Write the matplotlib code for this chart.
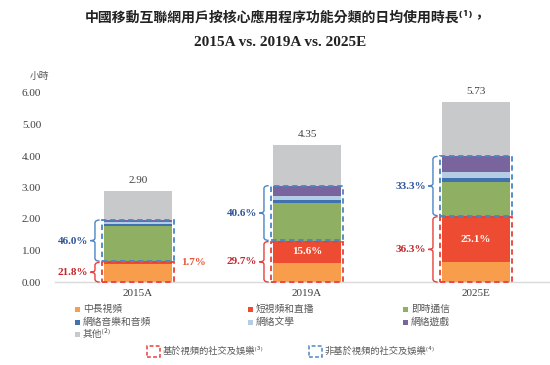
import matplotlib.pyplot as plt
import numpy as np
from matplotlib.patches import Rectangle, PathPatch
from matplotlib.path import Path

plt.rcParams['font.family'] = ['Liberation Serif', 'Noto Sans CJK TC', 'DejaVu Sans']

years = ['2015A', '2019A', '2025E']
totals = [2.90, 4.35, 5.73]
long_video = [0.583, 0.613, 0.642]
short_video = [0.049, 0.679, 1.438]
instant_msg = [1.13, 1.23, 1.08]
music_audio = [0.07, 0.09, 0.15]
literature = [0.07, 0.12, 0.19]
games = [0.064, 0.326, 0.488]
video_pct = ['21.8%', '29.7%', '36.3%']
nonvideo_pct = ['46.0%', '40.6%', '33.3%']
short_pct = ['1.7%', '15.6%', '25.1%']

series_names = ['中長視頻', '短視頻和直播', '即時通信', '網絡音樂和音頻', '網絡文學', '網絡遊戲', '其他⁽²⁾']
colors = ['#F79D4B', '#EE4B33', '#8FB063', '#3F72AE', '#B5CCE5', '#7A649E', '#C8C9CB']

others = [t - l - s - i - m - w - g for t, l, s, i, m, w, g in
          zip(totals, long_video, short_video, instant_msg, music_audio, literature, games)]
stack = [long_video, short_video, instant_msg, music_audio, literature, games, others]

red_box = '#E8403A'
blue_box = '#4A86C5'
red_txt = '#C0282D'
blue_txt = '#2F5496'
txt_gray = '#404040'

fig = plt.figure(figsize=(5.5, 3.65), dpi=100)
ax = fig.add_axes([55 / 550, 1 - 282 / 365, 495 / 550, 189 / 365])

x = np.arange(len(years))
bw = 0.4
bottom = np.zeros(len(years))
for vals, c in zip(stack, colors):
    ax.bar(x, vals, bw, bottom=bottom, color=c, linewidth=0, zorder=2)
    bottom += np.array(vals)


def brace(ax, xr, y0, y1, color):
    # curly brace pointing left, spanning y0..y1
    w = 0.055
    xm = xr - w * 0.5
    xl = xr - w
    ym = (y0 + y1) / 2
    r = 0.08
    verts = [(xr, y0), (xm, y0), (xm, y0 + r), (xm, y0 + r),
             (xm, ym - r), (xm, ym), (xl, ym),
             (xm, ym), (xm, ym + r),
             (xm, y1 - r), (xm, y1 - r), (xm, y1), (xr, y1)]
    codes = [Path.MOVETO, Path.CURVE4, Path.CURVE4, Path.CURVE4,
             Path.LINETO, Path.CURVE3, Path.CURVE3,
             Path.CURVE3, Path.CURVE3,
             Path.LINETO, Path.CURVE4, Path.CURVE4, Path.CURVE4]
    ax.add_patch(PathPatch(Path(verts, codes), fill=False, edgecolor=color, lw=1.0,
                           clip_on=False, zorder=3))
    return xl


for i in range(len(years)):
    v_top = long_video[i] + short_video[i]
    nv_top = totals[i] - others[i]
    bl = x[i] - bw / 2 - 0.015
    bwid = bw + 0.03
    ax.add_patch(Rectangle((bl, 0.0), bwid, v_top - 0.01, fill=False, edgecolor=red_box,
                           ls=(0, (3, 2)), lw=1.3, zorder=4, clip_on=False))
    ax.add_patch(Rectangle((bl, v_top + 0.03), bwid, nv_top - v_top - 0.03, fill=False,
                           edgecolor=blue_box, ls=(0, (3, 2)), lw=1.3, zorder=4, clip_on=False))
    xl = brace(ax, bl - 0.012, 0.0, v_top - 0.01, red_box)
    ax.text(xl - 0.012, v_top / 2, video_pct[i], ha='right', va='center', fontsize=8,
            fontweight='bold', color=red_txt)
    xl = brace(ax, bl - 0.012, v_top + 0.03, nv_top, blue_box)
    ax.text(xl - 0.012, (v_top + nv_top) / 2, nonvideo_pct[i], ha='right', va='center',
            fontsize=8, fontweight='bold', color=blue_txt)
    ax.text(x[i], totals[i] + 0.33, f'{totals[i]:.2f}', ha='center', va='center',
            fontsize=8, color=txt_gray)
    if i == 0:
        ax.text(x[i] + bw / 2 + 0.13, v_top, short_pct[i], ha='center', va='center',
                fontsize=8, fontweight='bold', color='#E9533B')
    else:
        ax.text(x[i], long_video[i] + short_video[i] / 2, short_pct[i], ha='center',
                va='center', fontsize=8, fontweight='bold', color='white', zorder=5)

ax.set_xlim(-0.491, 2.438)
ax.set_ylim(0, 6)
ax.set_yticks(np.arange(0, 7, 1))
ax.set_yticklabels([f'{v:.2f}' for v in np.arange(0, 7, 1)])
ax.set_xticks(x)
ax.set_xticklabels(years)
ax.tick_params(length=0, labelsize=8, colors=txt_gray, pad=5)
ax.tick_params(axis='y', pad=10)
for s in ['top', 'right', 'left']:
    ax.spines[s].set_visible(False)
ax.spines['bottom'].set_color('#D9D9D9')
ax.spines['bottom'].set_linewidth(1.0)

fig.text(30 / 550, 1 - 76 / 365, '小時', fontsize=7, color='#595959', ha='left', va='center',
         family=['Noto Sans CJK TC', 'DejaVu Sans'])

fig.text(0.52, 1 - 18 / 365, '中國移動互聯網用戶按核心應用程序功能分類的日均使用時長⁽¹⁾，',
         ha='center', va='center', fontsize=10, fontweight='bold', color='#222222',
         family=['Noto Sans CJK TC', 'DejaVu Sans'])
fig.text(0.509, 1 - 43 / 365, '2015A vs. 2019A vs. 2025E', ha='center', va='center',
         fontsize=11, fontweight='bold', color='#222222')

# legend
col_x = [75, 248, 403]
row_y = [309, 322, 334]
for k, (name, c) in enumerate(zip(series_names, colors)):
    cx = col_x[k % 3]
    cy = row_y[k // 3]
    fig.patches.append(Rectangle((cx / 550, 1 - (cy + 2.5) / 365), 5 / 550, 5 / 365,
                                 transform=fig.transFigure, facecolor=c, edgecolor='none'))
    fig.text((cx + 8) / 550, 1 - cy / 365, name, ha='left', va='center', fontsize=7,
             color='#595959', family=['Noto Sans CJK TC', 'DejaVu Sans'])

box_legend = [('基於視頻的社交及娛樂⁽³⁾', red_box, 147), ('非基於視頻的社交及娛樂⁽⁴⁾', blue_box, 309)]
for name, c, bx in box_legend:
    fig.patches.append(Rectangle((bx / 550, 1 - 357 / 365), 13 / 550, 11 / 365,
                                 transform=fig.transFigure, fill=False, edgecolor=c,
                                 ls=(0, (2.5, 1.5)), lw=1.1))
    fig.text((bx + 16) / 550, 1 - 351 / 365, name, ha='left', va='center', fontsize=6.7,
             color='#595959', family=['Noto Sans CJK TC', 'DejaVu Sans'])

fig.savefig('out.png', dpi=100)
